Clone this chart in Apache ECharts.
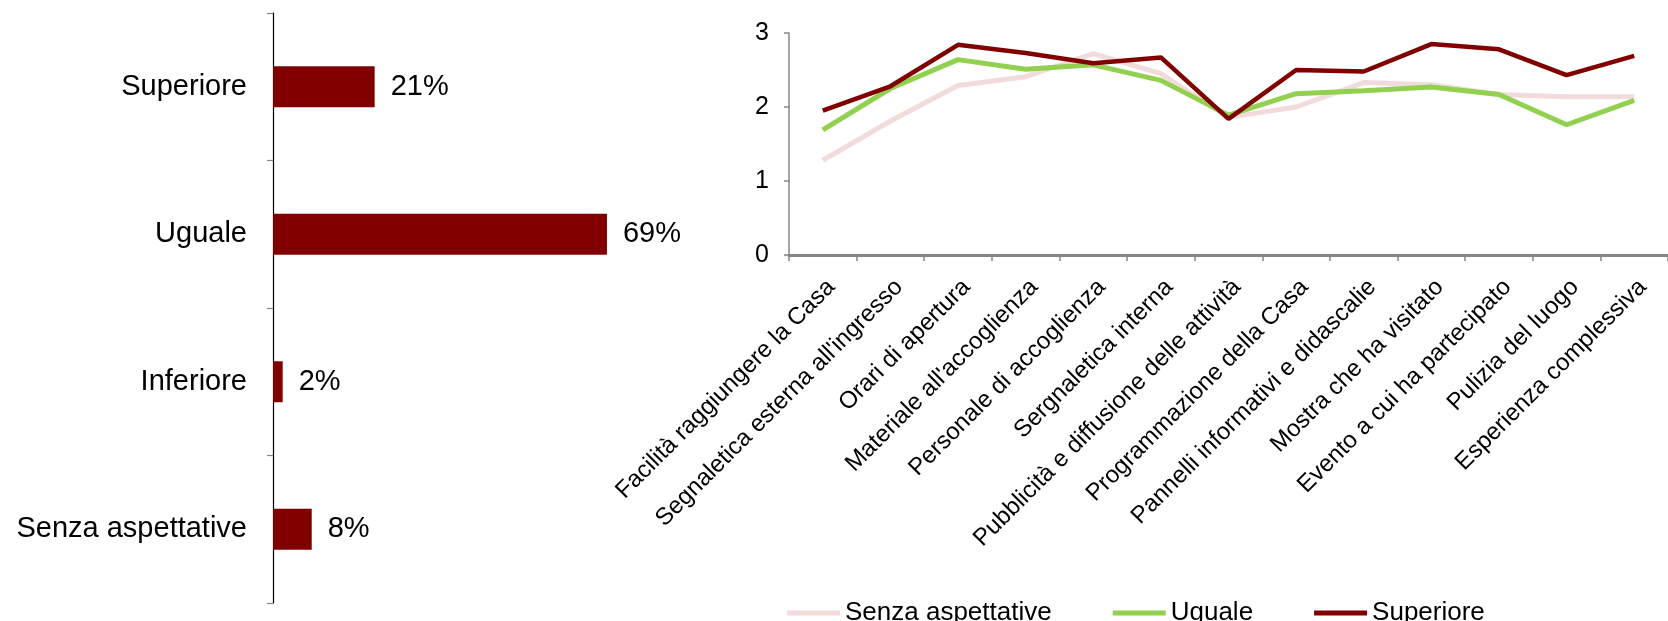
<!DOCTYPE html>
<html>
<head>
<meta charset="utf-8">
<script src="https://cdn.jsdelivr.net/npm/echarts@6/dist/echarts.min.js"></script>
<style>
  html, body { margin: 0; padding: 0; background: #ffffff; }
  #chart { width: 1668px; height: 621px; }
</style>
</head>
<body>
<div id="chart"></div>
<script>
// Expectation vs. experience (share of respondents, %)
const expectCategories = ['Superiore', 'Uguale', 'Inferiore', 'Senza aspettative'];
const expectShares = [21, 69, 2, 8];

// Average rating per aspect of the visit, by expectation group
const aspects = [
  'Facilità raggiungere la Casa',
  "Segnaletica esterna all'ingresso",
  'Orari di apertura',
  "Materiale all'accoglienza",
  'Personale di accoglienza',
  'Sergnaletica interna',
  'Pubblicità e diffusione delle attività',
  'Programmazione della Casa',
  'Pannelli informativi e didascalie',
  'Mostra che ha visitato',
  'Evento a cui ha partecipato',
  'Pulizia del luogo',
  'Esperienza complessiva'
];
const senzaAspettative = [1.28, 1.81, 2.29, 2.41, 2.72, 2.45, 1.86, 2.00, 2.33, 2.30, 2.17, 2.14, 2.14];
const uguale           = [1.69, 2.25, 2.64, 2.51, 2.57, 2.36, 1.89, 2.18, 2.22, 2.27, 2.17, 1.76, 2.09];
const superiore        = [1.95, 2.28, 2.84, 2.73, 2.59, 2.67, 1.84, 2.50, 2.48, 2.85, 2.78, 2.43, 2.69];
const ratingTicks = [0, 1, 2, 3];

const FONT = '"Liberation Sans", Arial, sans-serif';
const AXIS_GREY = '#868686';

const chart = echarts.init(document.getElementById('chart'), null, { renderer: 'canvas' });

chart.setOption({
  animation: false,
  backgroundColor: '#ffffff',
  textStyle: { fontFamily: FONT, color: '#000000' },
  legend: {
    left: 782,
    top: 595,
    icon: 'rect',
    itemWidth: 53,
    itemHeight: 5,
    itemGap: 61,
    textStyle: { fontFamily: FONT, fontSize: 26, color: '#000000', padding: [0, 0, 0, 0] },
    data: ['Senza aspettative', 'Uguale', 'Superiore']
  },
  grid: [
    { left: 273, top: 13, width: 484, height: 590 },
    { left: 789, top: 33, width: 899, height: 222 }
  ],
  xAxis: [
    {
      gridIndex: 0,
      type: 'value',
      min: 0,
      max: 100,
      show: false
    },
    {
      gridIndex: 1,
      type: 'category',
      data: aspects,
      boundaryGap: true,
      axisLine: { lineStyle: { color: AXIS_GREY, width: 3 } },
      axisTick: { show: true, length: 6, lineStyle: { color: AXIS_GREY, width: 1.5 } },
      axisLabel: {
        interval: 0,
        rotate: 45,
        margin: 20,
        verticalAlign: 'top',
        fontFamily: FONT,
        fontSize: 24,
        color: '#000000'
      }
    }
  ],
  yAxis: [
    {
      gridIndex: 0,
      type: 'category',
      data: expectCategories,
      inverse: true,
      axisLine: { lineStyle: { color: '#000000', width: 1.2 } },
      axisTick: { show: true, length: 6, lineStyle: { color: AXIS_GREY, width: 1.2 } },
      axisLabel: { margin: 26, fontFamily: FONT, fontSize: 29, color: '#000000' }
    },
    {
      gridIndex: 1,
      type: 'value',
      min: ratingTicks[0],
      max: ratingTicks[ratingTicks.length - 1],
      interval: 1,
      axisLine: { show: true, lineStyle: { color: AXIS_GREY, width: 1.5 } },
      axisTick: { show: true, length: 5, lineStyle: { color: AXIS_GREY, width: 1.5 } },
      splitLine: { show: false },
      axisLabel: { margin: 20, fontFamily: FONT, fontSize: 25, color: '#000000' }
    }
  ],
  series: [
    {
      name: 'Aspettative',
      type: 'bar',
      xAxisIndex: 0,
      yAxisIndex: 0,
      data: expectShares,
      barWidth: 41,
      itemStyle: { color: '#800000' },
      label: {
        show: true,
        position: 'right',
        distance: 16,
        formatter: '{c}%',
        fontFamily: FONT,
        fontSize: 29,
        color: '#000000'
      }
    },
    {
      name: 'Senza aspettative',
      type: 'line',
      xAxisIndex: 1,
      yAxisIndex: 1,
      data: senzaAspettative,
      symbol: 'none',
      lineStyle: { color: '#F2DCDB', width: 5 },
      itemStyle: { color: '#F2DCDB' }
    },
    {
      name: 'Uguale',
      type: 'line',
      xAxisIndex: 1,
      yAxisIndex: 1,
      data: uguale,
      symbol: 'none',
      lineStyle: { color: '#92D050', width: 5 },
      itemStyle: { color: '#92D050' }
    },
    {
      name: 'Superiore',
      type: 'line',
      xAxisIndex: 1,
      yAxisIndex: 1,
      data: superiore,
      symbol: 'none',
      lineStyle: { color: '#800000', width: 4.5 },
      itemStyle: { color: '#800000' }
    }
  ]
});
</script>
</body>
</html>
